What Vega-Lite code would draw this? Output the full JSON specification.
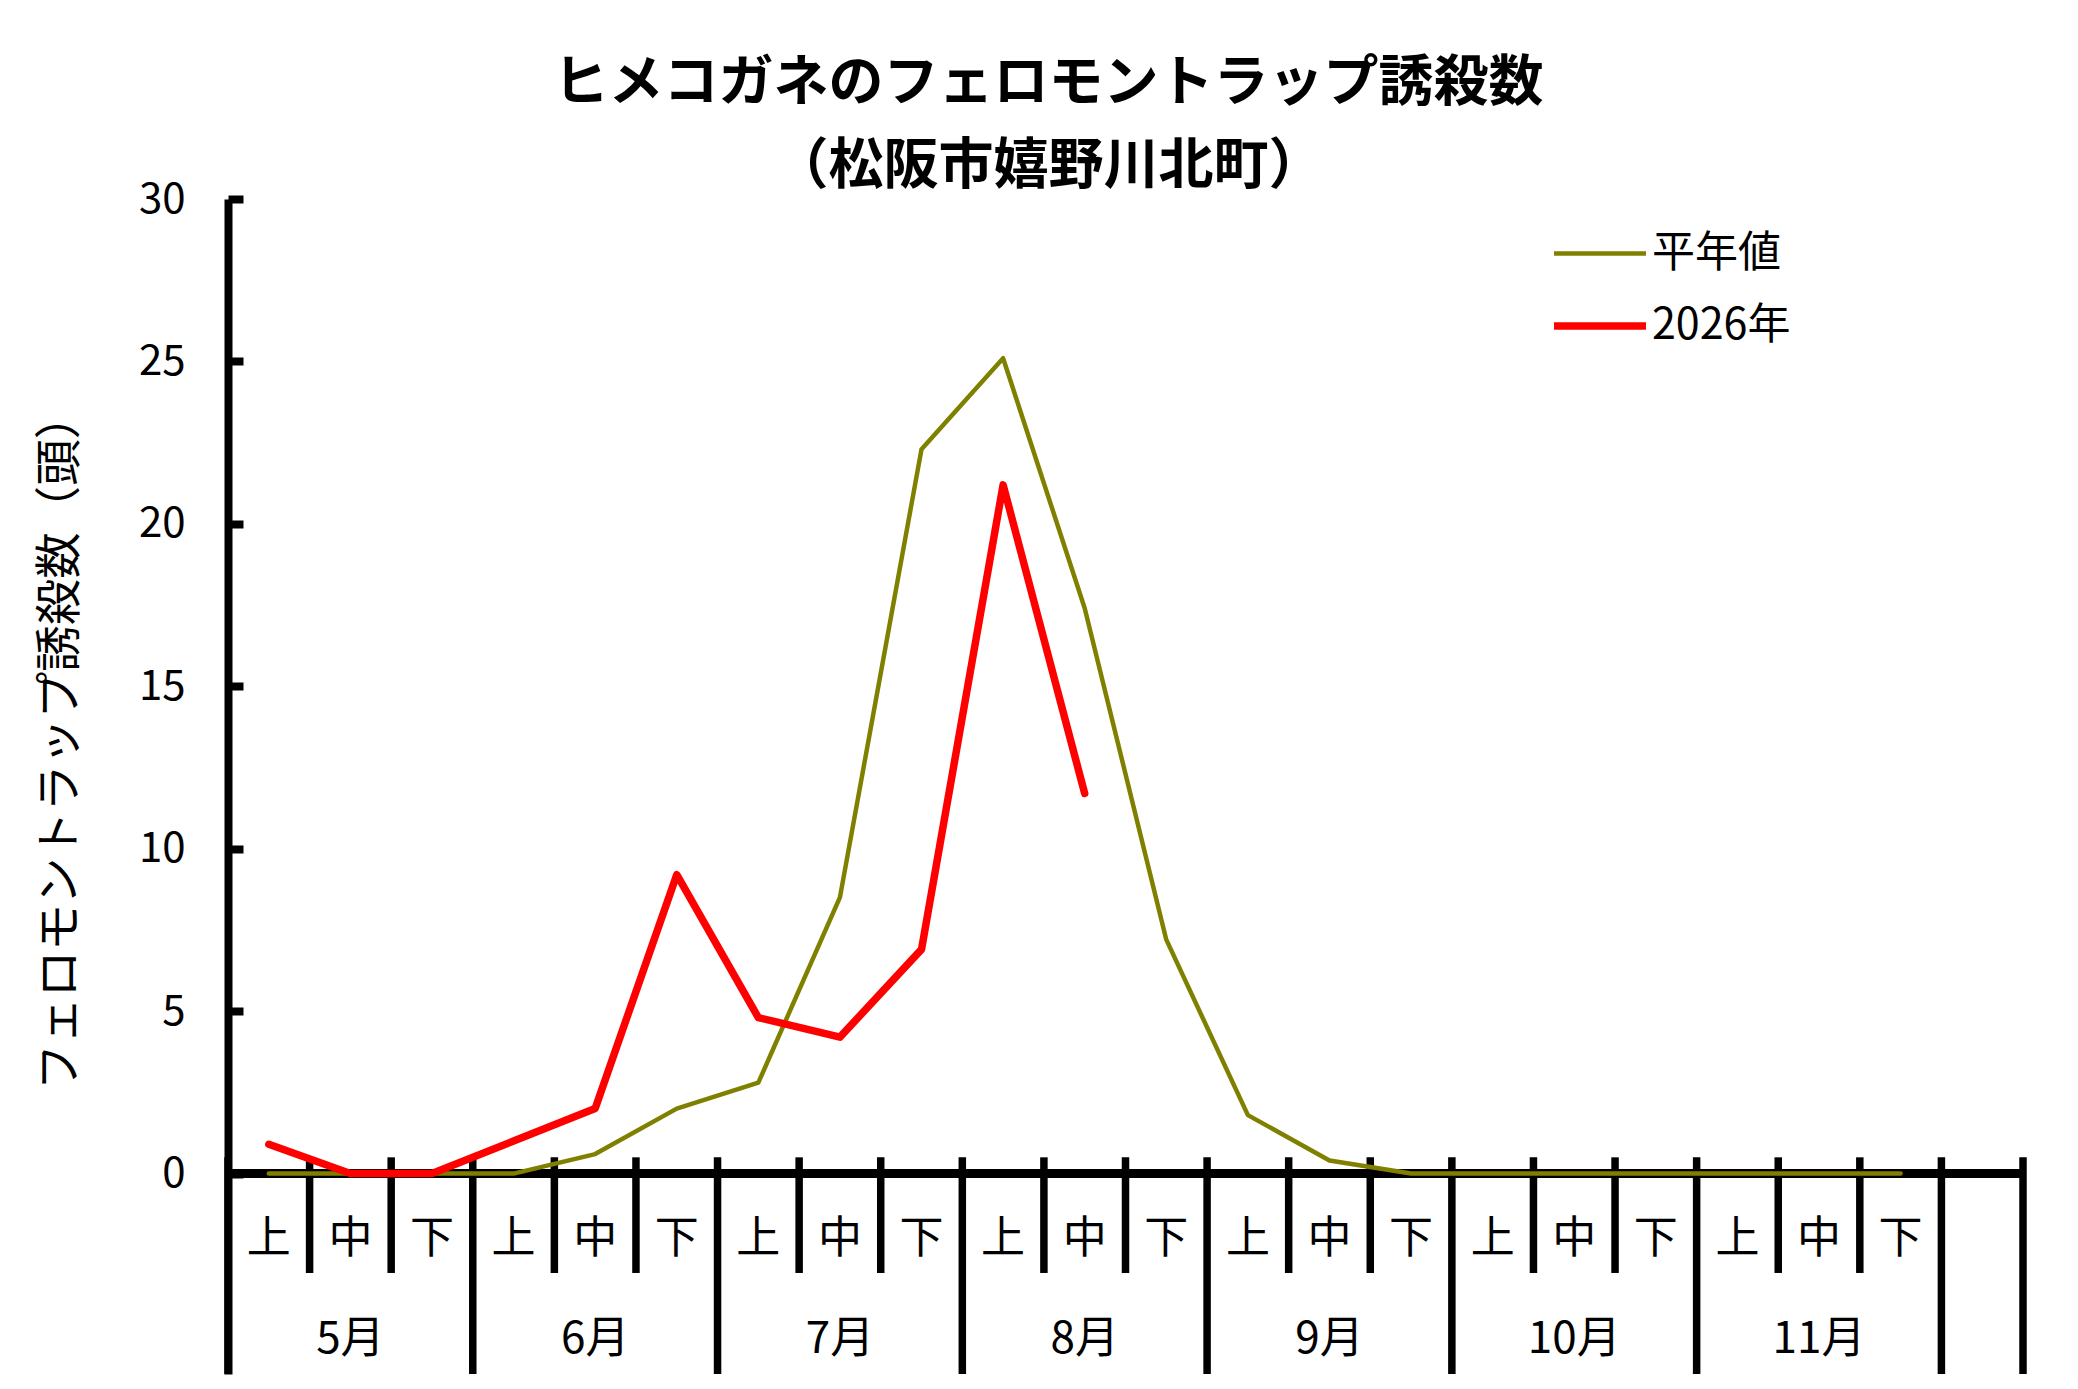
{
  "$schema": "https://vega.github.io/schema/vega-lite/v6.json",
  "width": 1795,
  "height": 1175,
  "autosize": {"type": "none"},
  "padding": {"left": 228, "top": 199, "right": 55, "bottom": 15},
  "background": "white",
  "config": {"view": {"stroke": null}, "font": "Noto Sans CJK JP"},
  "title": {
    "text": ["ヒメコガネのフェロモントラップ誘殺数", "（松阪市嬉野川北町）"],
    "fontSize": 55,
    "fontWeight": "bold",
    "lineHeight": 83,
    "anchor": "middle",
    "dx": -77,
    "offset": -17,
    "color": "black",
    "font": "Noto Sans CJK JP"
  },
  "datasets": {
    "counts": [
      {"slot": 1, "month": "5月", "jun": "上", "平年値": 0, "2026年": 0.9},
      {"slot": 2, "month": "5月", "jun": "中", "平年値": 0, "2026年": 0},
      {"slot": 3, "month": "5月", "jun": "下", "平年値": 0, "2026年": 0},
      {"slot": 4, "month": "6月", "jun": "上", "平年値": 0, "2026年": 1.0},
      {"slot": 5, "month": "6月", "jun": "中", "平年値": 0.6, "2026年": 2.0},
      {"slot": 6, "month": "6月", "jun": "下", "平年値": 2.0, "2026年": 9.2},
      {"slot": 7, "month": "7月", "jun": "上", "平年値": 2.8, "2026年": 4.8},
      {"slot": 8, "month": "7月", "jun": "中", "平年値": 8.5, "2026年": 4.2},
      {"slot": 9, "month": "7月", "jun": "下", "平年値": 22.3, "2026年": 6.9},
      {"slot": 10, "month": "8月", "jun": "上", "平年値": 25.1, "2026年": 21.2},
      {"slot": 11, "month": "8月", "jun": "中", "平年値": 17.4, "2026年": 11.7},
      {"slot": 12, "month": "8月", "jun": "下", "平年値": 7.2, "2026年": null},
      {"slot": 13, "month": "9月", "jun": "上", "平年値": 1.8, "2026年": null},
      {"slot": 14, "month": "9月", "jun": "中", "平年値": 0.4, "2026年": null},
      {"slot": 15, "month": "9月", "jun": "下", "平年値": 0, "2026年": null},
      {"slot": 16, "month": "10月", "jun": "上", "平年値": 0, "2026年": null},
      {"slot": 17, "month": "10月", "jun": "中", "平年値": 0, "2026年": null},
      {"slot": 18, "month": "10月", "jun": "下", "平年値": 0, "2026年": null},
      {"slot": 19, "month": "11月", "jun": "上", "平年値": 0, "2026年": null},
      {"slot": 20, "month": "11月", "jun": "中", "平年値": 0, "2026年": null},
      {"slot": 21, "month": "11月", "jun": "下", "平年値": 0, "2026年": null}
    ],
    "bounds": [
      {"b": 0.5, "kind": "month"},
      {"b": 1.5, "kind": "sub"},
      {"b": 2.5, "kind": "sub"},
      {"b": 3.5, "kind": "month"},
      {"b": 4.5, "kind": "sub"},
      {"b": 5.5, "kind": "sub"},
      {"b": 6.5, "kind": "month"},
      {"b": 7.5, "kind": "sub"},
      {"b": 8.5, "kind": "sub"},
      {"b": 9.5, "kind": "month"},
      {"b": 10.5, "kind": "sub"},
      {"b": 11.5, "kind": "sub"},
      {"b": 12.5, "kind": "month"},
      {"b": 13.5, "kind": "sub"},
      {"b": 14.5, "kind": "sub"},
      {"b": 15.5, "kind": "month"},
      {"b": 16.5, "kind": "sub"},
      {"b": 17.5, "kind": "sub"},
      {"b": 18.5, "kind": "month"},
      {"b": 19.5, "kind": "sub"},
      {"b": 20.5, "kind": "sub"},
      {"b": 21.5, "kind": "month"},
      {"b": 22.5, "kind": "month"}
    ]
  },
  "layer": [
    {
      "data": {"name": "bounds"},
      "transform": [{"filter": "datum.kind === 'sub'"}],
      "mark": {"type": "rule", "strokeWidth": 7.5, "color": "black"},
      "encoding": {
        "x": {"field": "b", "type": "quantitative", "scale": {"domain": [0.5, 22.5], "nice": false, "zero": false}, "axis": null},
        "y": {"datum": 0.5, "type": "quantitative", "scale": {"domain": [-6.17, 30], "nice": false, "zero": false}},
        "y2": {"datum": -3.06}
      }
    },
    {
      "data": {"name": "bounds"},
      "transform": [{"filter": "datum.kind === 'month'"}],
      "mark": {"type": "rule", "strokeWidth": 7.5, "color": "black"},
      "encoding": {
        "x": {"field": "b", "type": "quantitative", "scale": {"domain": [0.5, 22.5], "nice": false, "zero": false}, "axis": null},
        "y": {"datum": 0.5, "type": "quantitative", "scale": {"domain": [-6.17, 30], "nice": false, "zero": false}},
        "y2": {"datum": -6.17}
      }
    },
    {
      "data": {"name": "bounds"},
      "mark": {"type": "rule", "strokeWidth": 9, "color": "black"},
      "encoding": {
        "x": {"aggregate": "min", "field": "b", "type": "quantitative", "scale": {"domain": [0.5, 22.5], "nice": false, "zero": false}, "axis": null},
        "x2": {"aggregate": "max", "field": "b"},
        "y": {"datum": 0, "type": "quantitative", "scale": {"domain": [-6.17, 30], "nice": false, "zero": false}}
      }
    },
    {
      "data": {"name": "counts"},
      "mark": {"type": "text", "fontSize": 44, "color": "black", "align": "center", "baseline": "middle", "font": "Noto Sans CJK JP"},
      "encoding": {
        "x": {"field": "slot", "type": "quantitative", "scale": {"domain": [0.5, 22.5], "nice": false, "zero": false}, "axis": null},
        "y": {"datum": -2.04, "type": "quantitative", "scale": {"domain": [-6.17, 30], "nice": false, "zero": false}},
        "text": {"field": "jun", "type": "nominal"}
      }
    },
    {
      "data": {"name": "counts"},
      "mark": {"type": "text", "fontSize": 44, "color": "black", "align": "center", "baseline": "middle", "font": "Noto Sans CJK JP"},
      "encoding": {
        "x": {"aggregate": "mean", "field": "slot", "type": "quantitative", "scale": {"domain": [0.5, 22.5], "nice": false, "zero": false}, "axis": null},
        "y": {"datum": -5.12, "type": "quantitative", "scale": {"domain": [-6.17, 30], "nice": false, "zero": false}},
        "text": {"field": "month", "type": "nominal"}
      }
    },
    {
      "data": {"name": "counts"},
      "transform": [{"fold": ["平年値", "2026年"], "as": ["series", "value"]}],
      "mark": {"type": "line", "strokeCap": "round", "strokeJoin": "round"},
      "encoding": {
        "x": {"field": "slot", "type": "quantitative", "scale": {"domain": [0.5, 22.5], "nice": false, "zero": false}, "axis": null},
        "y": {
          "field": "value",
          "type": "quantitative",
          "scale": {"domain": [-6.17, 30], "nice": false, "zero": false},
          "axis": {
            "title": "フェロモントラップ誘殺数（頭）",
            "values": [0, 5, 10, 15, 20, 25, 30],
            "grid": false,
            "domain": true,
            "domainColor": "black",
            "domainWidth": 8,
            "ticks": true,
            "tickSize": -15,
            "tickWidth": 8,
            "tickColor": "black",
            "labelFontSize": 42,
            "labelColor": "black",
            "labelFont": "Noto Sans CJK JP",
            "labelPadding": 58,
            "labelFlush": false,
            "labelOverlap": false,
            "titleFontSize": 46.5,
            "titleColor": "black",
            "titleFontWeight": "normal",
            "titleFont": "Noto Sans CJK JP",
            "titleAngle": 270,
            "titleBaseline": "middle",
            "titleAlign": "center",
            "titleX": -168,
            "titleY": 542
          }
        },
        "color": {
          "field": "series",
          "type": "nominal",
          "scale": {"domain": ["平年値", "2026年"], "range": ["#808000", "#ff0000"]},
          "legend": {
            "title": null,
            "orient": "none",
            "legendX": 1322,
            "legendY": 6,
            "padding": 0,
            "symbolType": "stroke",
            "symbolSize": 8464,
            "rowPadding": -25,
            "labelOffset": 2,
            "labelFontSize": 43,
            "labelColor": "black",
            "labelFont": "Noto Sans CJK JP"
          }
        },
        "strokeWidth": {
          "field": "series",
          "type": "nominal",
          "scale": {"type": "point", "padding": 0, "domain": ["平年値", "2026年"], "range": [4.5, 7.5]},
          "legend": {
            "title": null,
            "orient": "none",
            "legendX": 1322,
            "legendY": 6,
            "padding": 0,
            "symbolType": "stroke",
            "symbolSize": 8464,
            "rowPadding": -25,
            "labelOffset": 2,
            "labelFontSize": 43,
            "labelColor": "black",
            "labelFont": "Noto Sans CJK JP"
          }
        }
      }
    }
  ]
}
